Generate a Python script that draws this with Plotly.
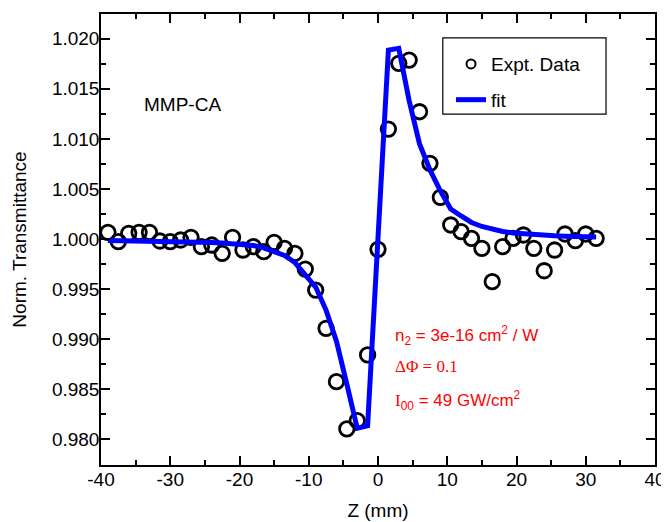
import plotly.graph_objects as go

z_mm = [-39.0, -37.5, -36.0, -34.5, -33.0, -31.5, -30.0, -28.5, -27.0, -25.5,
        -24.0, -22.5, -21.0, -19.5, -18.0, -16.5, -15.0, -13.5, -12.0, -10.5,
        -9.0, -7.5, -6.0, -4.5, -3.0, -1.5, 0.0, 1.5, 3.0, 4.5,
        6.0, 7.5, 9.0, 10.5, 12.0, 13.5, 15.0, 16.5, 18.0, 19.5,
        21.0, 22.5, 24.0, 25.5, 27.0, 28.5, 30.0, 31.5]

expt_data = [1.00067, 0.99973, 1.00057, 1.00067, 1.00067, 0.99980, 0.99973, 0.99990, 1.00017, 0.99923,
             0.99940, 0.99857, 1.00017, 0.99890, 0.99923, 0.99873, 0.99967, 0.99907, 0.99857, 0.99700,
             0.99490, 0.99108, 0.98575, 0.98103, 0.98186, 0.98842, 0.99897, 1.01098, 1.01754, 1.01787,
             1.01271, 1.00756, 1.00416, 1.00140, 1.00073, 1.00007, 0.99907, 0.99574, 0.99923, 1.00007,
             1.00040, 0.99907, 0.99683, 0.99890, 1.00050, 0.99983, 1.00050, 1.00007]

fit_values = [0.99985, 0.99984, 0.99983, 0.99982, 0.99980, 0.99979, 0.99977, 0.99975, 0.99972, 0.99969,
              0.99965, 0.99960, 0.99955, 0.99947, 0.99935, 0.99912, 0.99880, 0.99835, 0.99765, 0.99650,
              0.99520, 0.99290, 0.98980, 0.98550, 0.98110, 0.98136, 1.00000, 1.01887, 1.01904, 1.01380,
              1.00950, 1.00690, 1.00480, 1.00300, 1.00230, 1.00165, 1.00125, 1.00095, 1.00075, 1.00060,
              1.00050, 1.00043, 1.00037, 1.00032, 1.00028, 1.00025, 1.00023, 1.00020]

x_ticks = [-40, -30, -20, -10, 0, 10, 20, 30, 40]
y_ticks = [0.980, 0.985, 0.990, 0.995, 1.000, 1.005, 1.010, 1.015, 1.020]

FONT = "Liberation Sans, Arial, sans-serif"
SERIF = "Liberation Serif, Times New Roman, serif"

fig = go.Figure()

# data markers (drawn below the fit line)
fig.add_trace(go.Scatter(
    x=z_mm, y=expt_data, mode="markers", name="Expt. Data", showlegend=False,
    marker=dict(symbol="circle-open", size=14.5, color="black", line=dict(width=2.8, color="black")),
))
fig.add_trace(go.Scatter(
    x=z_mm, y=fit_values, mode="lines", name="fit", showlegend=False,
    line=dict(color="#0000FF", width=5),
))
# legend entries
fig.add_trace(go.Scatter(
    x=[None], y=[None], mode="markers", name="Expt. Data", legendgroup="a",
    marker=dict(symbol="circle-open", size=9, color="black", line=dict(width=2, color="black")),
))
fig.add_trace(go.Scatter(
    x=[None], y=[None], mode="lines", name="fit", legendgroup="b",
    line=dict(color="#0000FF", width=5),
))

axis_common = dict(
    showline=True, linecolor="black", linewidth=1.5, mirror="allticks",
    ticks="inside", ticklen=9, tickwidth=1.5, tickcolor="black",
    showgrid=False, zeroline=False, automargin=False,
    tickfont=dict(family=FONT, size=19, color="black"),
)

fig.update_xaxes(
    range=[-40, 40], tickvals=x_ticks, ticktext=[str(v) for v in x_ticks],
    minor=dict(ticks="inside", dtick=5, ticklen=5, tickwidth=1.5, tickcolor="black", showgrid=False),
    ticklabelstandoff=-4,
    title=dict(text="Z (mm)", font=dict(family=FONT, size=19, color="black"), standoff=15),
    **axis_common,
)
fig.update_yaxes(
    range=[0.97743, 1.02247], tickvals=y_ticks, ticktext=[f"{v:.3f}" for v in y_ticks],
    minor=dict(ticks="inside", dtick=0.0025, tick0=0.98, ticklen=5, tickwidth=1.5, tickcolor="black", showgrid=False),
    ticklabelstandoff=-4,
    title=dict(text="Norm. Transmittance", font=dict(family=FONT, size=19, color="black"), standoff=20),
    **axis_common,
)

# legend frame
fig.add_shape(type="rect", xref="paper", yref="paper",
              x0=0.617, x1=0.9116, y0=0.778, y1=0.947,
              line=dict(color="black", width=1.2), fillcolor="white", layer="below")

fig.add_annotation(x=0.148, y=0.800, xref="paper", yref="paper", text="MMP-CA",
                   xanchor="center", yanchor="middle",
                   showarrow=False, font=dict(family=FONT, size=19, color="black"))
red = "#FF0000"
fig.add_annotation(x=0.527, y=0.288, xref="paper", yref="paper", xanchor="left", yanchor="middle",
                   text="n<sub>2</sub> = 3e-16 cm<sup>2</sup> / W",
                   showarrow=False, font=dict(family=FONT, size=17, color=red))
fig.add_annotation(x=0.527, y=0.2195, xref="paper", yref="paper", xanchor="left", yanchor="middle",
                   text="ΔΦ = 0.1",
                   showarrow=False, font=dict(family=SERIF, size=17, color=red))
fig.add_annotation(x=0.527, y=0.144, xref="paper", yref="paper", xanchor="left", yanchor="middle",
                   text="<span style='font-family:Liberation Serif'>I</span><sub>00</sub> = 49 GW/cm<sup>2</sup>",
                   showarrow=False, font=dict(family=FONT, size=17, color=red))

# the page body has an 8px margin; size the figure so the plot area lands where the reference has it
fig.update_layout(
    width=661, height=514,
    margin=dict(l=93, r=14, t=6, b=57, autoexpand=False),
    paper_bgcolor="white", plot_bgcolor="white",
    font=dict(family=FONT, size=19, color="black"),
    legend=dict(
        x=0.6318, y=0.931, xanchor="left", yanchor="top",
        borderwidth=0, bgcolor="rgba(0,0,0,0)",
        font=dict(family=FONT, size=19, color="black"),
        tracegroupgap=8,
    ),
)

fig.write_html("out.html")
